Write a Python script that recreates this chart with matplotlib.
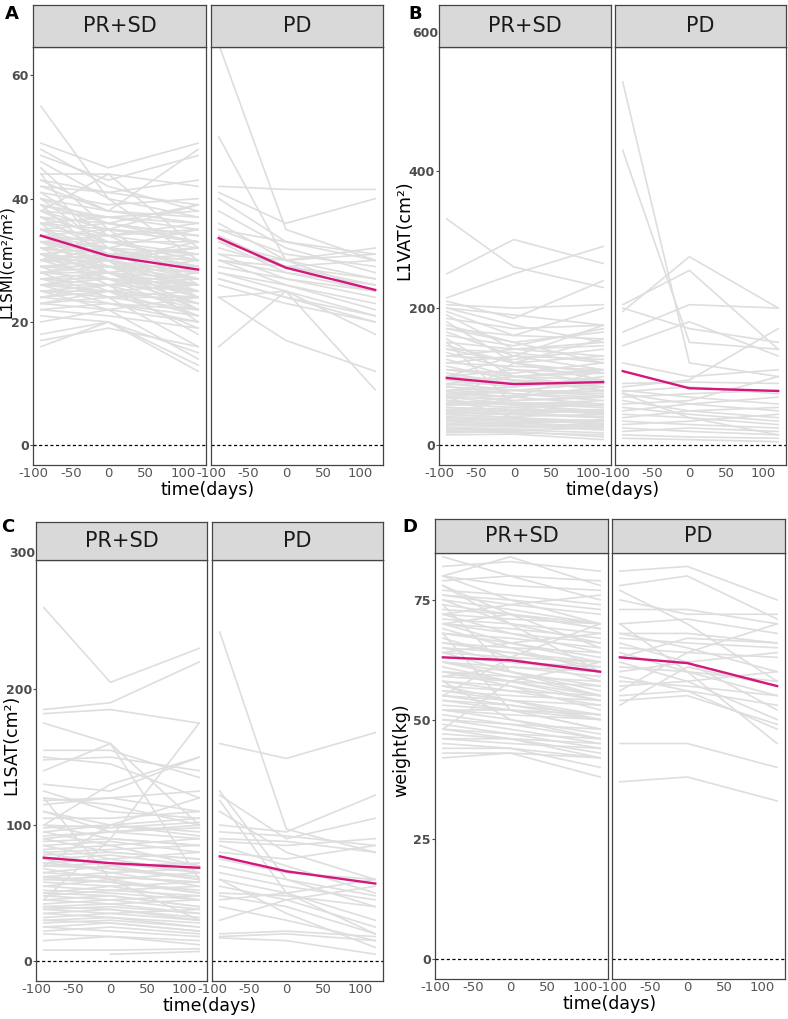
import numpy as np
import matplotlib
matplotlib.use("Agg")
import matplotlib.pyplot as plt

nan = np.nan
times = [-90, 0, 120]
groups = ["PR+SD", "PD"]

# ---- panel A: L1SMI ----
smi_prsd = [
    [55, 40, 30], [49, 45, 49], [48, 42, 38], [47, 43, 47], [45, 35, 26], [44, 44, 42], [44, 30, 22],
    [43, 38, 36], [42, 41, 43], [41, 34, 28], [41, 39, 40], [40, 36, 33], [40, 32, 24], [39, 37, 38],
    [39, 30, 20], [38, 37, 35], [38, 33, 30], [37, 36, 39], [37, 31, 27], [36, 35, 34], [36, 28, 22],
    [36, 33, 31], [35, 34, 36], [35, 30, 25], [35, 32, 29], [34, 33, 33], [34, 29, 26], [34, 31, 30],
    [33, 32, 31], [33, 28, 24], [33, 34, 35], [32, 30, 28], [32, 27, 21], [32, 31, 32], [31, 29, 27],
    [31, 30, 33], [31, 26, 18], [30, 29, 28], [30, 31, 30], [30, 27, 25], [29, 28, 26], [29, 30, 31],
    [29, 25, 19], [28, 27, 26], [28, 29, 29], [28, 24, 22], [27, 26, 25], [27, 28, 27], [27, 24, 16],
    [26, 25, 24], [26, 27, 26], [26, 23, 20], [25, 24, 24], [25, 26, 27], [25, 22, 14], [24, 23, 22],
    [24, 25, 23], [23, 22, 20], [23, 24, 25], [22, 21, 19], [22, 23, 21], [21, 20, 15], [20, 22, 24],
    [18, 20, 13], [17, 19, 16], [16, 20, 12], [42, 38, 48], [38, 44, 32], [30, 35, 39], [46, 40, 37],
    [36, 37, 36], [35, 36, 34], [34, 35, 33], [33, 31, 29], [32, 33, 30], [31, 32, 29], [30, 30, 27],
    [29, 29, 24], [28, 28, 25], [27, 27, 23], [26, 26, 22], [25, 25, 21], [38, 35, 33], [37, 34, 32],
    [40, 38, 37], [24, 26, 28], [23, 25, 26], [34, 32, 28], [33, 30, 26], [31, 28, 23], [30, 32, 35],
    [28, 30, 32], [43, 41, 39], [39, 36, 34], [26, 28, 30],
]
smi_pd = [
    [65, 35, 30], [50, 30, 25], [42, 41.5, 41.5], [41, 36, 40], [40, 33, 30], [38, 32, 28], [36, 30, 27],
    [35, 31, 29], [34, 29, 26], [33, 30, 31], [33, 28, 25], [32, 29, 27], [31, 30, 32], [31, 27, 24],
    [30, 28, 26], [30, 26, 22], [29, 27, 25], [28, 26, 23], [28, 25, 21], [27, 24, 20], [26, 23, 20],
    [24, 25, 18], [24, 17, 12], [16, 25, 9], [30, 29, 30], [35, 33, 31], [27, 24, 21],
]
smi_mean = [[34.0, 30.7, 28.5], [33.6, 28.8, 25.2]]

# ---- panel B: L1VAT ----
vat_prsd = [
    [330, 260, 230], [250, 300, 265], [215, 250, 290], [210, 185, 240], [205, 200, 205], [200, 175, 150],
    [195, 160, 200], [190, 140, 130], [185, 170, 175], [180, 120, 95], [175, 150, 165], [170, 160, 155],
    [165, 130, 110], [160, 145, 170], [155, 100, 85], [150, 140, 145], [145, 120, 130], [140, 135, 120],
    [135, 110, 90], [130, 125, 140], [125, 100, 105], [120, 115, 110], [115, 95, 80], [110, 105, 120],
    [105, 90, 95], [100, 95, 90], [95, 85, 100], [90, 80, 75], [88, 92, 85], [85, 75, 70], [80, 85, 95],
    [78, 70, 60], [75, 80, 78], [72, 65, 70], [70, 60, 55], [68, 72, 80], [65, 58, 50], [62, 60, 65],
    [60, 55, 45], [58, 62, 60], [55, 50, 52], [52, 48, 40], [50, 55, 58], [48, 45, 42], [45, 40, 35],
    [42, 46, 50], [40, 38, 30], [38, 35, 37], [35, 32, 28], [32, 34, 36], [30, 28, 22], [28, 30, 25],
    [25, 22, 18], [22, 25, 28], [20, 18, 15], [18, 20, 12], [15, 16, 8], [60, 120, 155], [150, 60, 45],
    [100, 130, 175], [70, 40, 30], [45, 70, 110],
    [120, 130, 125], [110, 100, 95], [100, 110, 105], [95, 90, 85], [90, 100, 110], [85, 80, 90],
    [80, 75, 65], [75, 70, 85], [70, 80, 72], [65, 60, 58], [60, 65, 70], [55, 52, 48], [50, 45, 40],
    [45, 50, 48], [40, 42, 45], [35, 38, 32], [30, 32, 35], [25, 28, 30], [20, 22, 25], [140, 120, 105],
    [130, 140, 150], [170, 150, 120], [200, 190, 175], [60, 70, 85],
]
vat_pd = [
    [530, 120, 100], [430, 150, 140], [205, 255, 140], [200, 170, 150], [195, 275, 200], [165, 205, 200],
    [145, 180, 130], [120, 100, 110], [85, 95, 170], [80, 70, 60], [78, 85, 75], [75, 60, 50], [70, 75, 80],
    [65, 50, 40], [60, 65, 100], [55, 45, 35], [50, 60, 70], [45, 40, 30], [40, 50, 55], [35, 30, 25],
    [30, 35, 45], [25, 20, 15], [20, 25, 20], [15, 12, 10], [10, 8, 5], [75, 40, 15], [90, 92, 90],
]
vat_mean = [[98, 89, 92], [108, 83, 79]]

# ---- panel C: L1SAT ----
sat_prsd = [
    [260, 205, 230], [185, 190, 220], [182, 185, 175], [175, 160, 60], [155, 155, 135], [150, 145, 120],
    [148, 150, 140], [140, 160, 100], [130, 125, 150], [125, 110, 105], [120, 115, 100], [115, 120, 125],
    [110, 95, 90], [105, 105, 110], [100, 90, 85], [98, 100, 95], [95, 85, 70], [92, 95, 100], [90, 80, 75],
    [88, 90, 85], [85, 75, 65], [82, 85, 90], [80, 70, 60], [78, 80, 75], [75, 65, 55], [72, 75, 80],
    [70, 68, 60], [68, 60, 50], [65, 70, 72], [62, 58, 50], [60, 62, 58], [58, 55, 45], [55, 60, 65],
    [52, 50, 45], [50, 48, 40], [48, 52, 55], [45, 42, 35], [42, 45, 48], [40, 38, 30], [38, 40, 35],
    [35, 32, 25], [32, 35, 38], [30, 28, 22], [28, 30, 25], [25, 22, 18], [22, 25, 20], [20, 18, 15],
    [15, 18, 12], [8, 8, 9], [nan, 5, 7], [45, 90, 175], [120, 60, 30], [100, 130, 150], [70, 100, 120],
    [95, 100, 105], [90, 95, 98], [85, 88, 80], [80, 82, 85], [75, 78, 70], [70, 72, 65], [65, 62, 58],
    [60, 58, 52], [55, 52, 48], [50, 55, 58], [45, 48, 40], [40, 42, 45], [35, 38, 32], [30, 32, 28],
    [25, 28, 22], [110, 100, 92], [100, 98, 102], [72, 68, 62], [62, 65, 68], [48, 45, 38], [38, 35, 30],
    [118, 120, 110],
]
sat_pd = [
    [242, 97, 80], [160, 149, 168], [125, 60, 40], [122, 90, 105], [118, 50, 20], [110, 80, 60],
    [95, 92, 85], [90, 88, 80], [88, 85, 90], [85, 70, 50], [80, 75, 85], [75, 65, 60], [70, 60, 48],
    [65, 55, 45], [60, 50, 30], [55, 45, 25], [50, 48, 40], [48, 40, 20], [45, 50, 60], [40, 30, 15],
    [30, 45, 55], [20, 22, 18], [18, 20, 15], [17, 15, 5], [60, 35, 10], [100, 95, 122],
]
sat_mean = [[76, 72, 68.6], [77, 66, 57]]

# ---- panel D: weight ----
wt_prsd = [
    [84, 80, 75], [82, 83, 81], [80, 78, 77], [80, 75, 70], [79, 80, 79], [78, 72, 65], [77, 76, 74],
    [76, 74, 72], [75, 70, 66], [75, 73, 70], [74, 60, 55], [73, 72, 69], [72, 68, 64], [71, 70, 68],
    [70, 66, 62], [70, 69, 67], [69, 65, 60], [68, 67, 65], [67, 63, 58], [66, 65, 64], [65, 62, 60],
    [65, 64, 62], [64, 60, 56], [63, 62, 61], [62, 59, 55], [62, 61, 60], [61, 58, 54], [60, 59, 58],
    [60, 57, 52], [59, 58, 57], [58, 56, 53], [57, 56, 55], [57, 54, 50], [56, 55, 54], [55, 53, 50],
    [55, 54, 53], [54, 52, 48], [53, 52, 51], [52, 50, 47], [52, 51, 50], [51, 49, 46], [50, 49, 48],
    [49, 47, 44], [48, 47, 46], [47, 46, 43], [46, 45, 44], [45, 44, 42], [44, 44, 40], [43, 43, 42],
    [42, 43, 38], [68, 52, 48], [48, 58, 62], [78, 70, 60], [55, 63, 70], [72, 74, 76], [58, 50, 46],
    [76, 75, 73], [74, 72, 70], [72, 71, 70], [70, 68, 66], [68, 66, 63], [66, 64, 61], [64, 63, 62],
    [62, 60, 57], [60, 58, 55], [58, 57, 54], [56, 54, 51], [54, 53, 51], [52, 52, 50], [50, 48, 45],
    [48, 46, 42], [46, 46, 45], [64, 66, 68], [70, 72, 69], [80, 84, 78], [59, 61, 59],
]
wt_pd = [
    [81, 82, 75], [78, 80, 71], [77, 70, 58], [75, 72, 72], [73, 73, 70], [70, 71, 68], [68, 68, 66],
    [68, 65, 60], [67, 66, 65], [66, 62, 52], [65, 64, 63], [64, 60, 55], [63, 67, 66], [62, 58, 50],
    [61, 60, 58], [60, 62, 64], [59, 56, 48], [58, 57, 55], [57, 58, 60], [55, 56, 53], [54, 55, 49],
    [53, 61, 57], [45, 45, 40], [37, 38, 33], [70, 60, 45], [56, 64, 70],
]
wt_mean = [[63, 62.4, 60], [63, 61.8, 57]]

W, H = 788, 1019
fig = plt.figure(figsize=(W / 100, H / 100), dpi=100)
GREY = "#dedede"
MAGENTA = "#d4177c"
FRAME = "#444444"


def px_axes(x0, y0, x1, y1):
    return fig.add_axes([x0 / W, 1 - y1 / H, (x1 - x0) / W, (y1 - y0) / H])


def draw_panel(letter, ylabel, facets, strip_top, plot_top, plot_bottom, ylim, yticks, extra_tick,
               series, means, ylab_xy, letter_xy, ylab_size=12.5):
    xt = np.array(times, dtype=float)
    for i, (x0, x1) in enumerate(facets):
        ax = px_axes(x0, plot_top, x1, plot_bottom)
        for row in series[i]:
            y = np.array(row, dtype=float)
            ok = ~np.isnan(y)
            ax.plot(xt[ok], y[ok], color=GREY, lw=1.2, zorder=1)
        ax.plot(xt, means[i], color=MAGENTA, lw=1.7, zorder=3)
        ax.axhline(0, color="black", lw=0.9, ls=(0, (2.5, 2)), zorder=2)
        ax.set_xlim(-100.5, 130.5)
        ax.set_ylim(*ylim)
        ax.set_xticks([-100, -50, 0, 50, 100])
        ax.set_xticklabels(["-100", "-50", "0", "50", "100"], fontsize=9.5, color="#555555")
        ax.tick_params(axis="x", length=0, pad=1.5)
        ax.set_yticks(yticks)
        if i == 0:
            ax.set_yticklabels([str(t) for t in yticks], fontsize=9, fontweight="bold", color="#4d4d4d")
            ax.tick_params(axis="y", length=2, pad=1, color="#4d4d4d")
            if extra_tick is not None:
                ax.text(-0.005, extra_tick, str(extra_tick), transform=ax.get_yaxis_transform(),
                        ha="right", va="center", fontsize=9, fontweight="bold", color="#4d4d4d",
                        clip_on=False)
        else:
            ax.set_yticklabels([])
            ax.tick_params(axis="y", length=0)
        for s in ax.spines.values():
            s.set_color(FRAME)
            s.set_linewidth(0.9)
        sax = px_axes(x0, strip_top, x1, plot_top)
        sax.set_facecolor("#d9d9d9")
        sax.set_xticks([])
        sax.set_yticks([])
        for s in sax.spines.values():
            s.set_color(FRAME)
            s.set_linewidth(0.9)
        sax.text(0.5, 0.5, groups[i], ha="center", va="center", fontsize=15, color="#1a1a1a",
                 transform=sax.transAxes)
    xmid = (facets[0][0] + facets[1][1]) / 2
    fig.text(xmid / W, 1 - (plot_bottom + 25) / H, "time(days)", ha="center", va="center", fontsize=12.5)
    fig.text(ylab_xy[0] / W, 1 - ylab_xy[1] / H, ylabel, rotation=90, ha="center", va="center",
             fontsize=ylab_size)
    fig.text(letter_xy[0] / W, 1 - letter_xy[1] / H, letter, ha="center", va="center",
             fontsize=13, fontweight="bold")


draw_panel("A", "L1SMI(cm²/m²)", [(33, 206), (211, 383)], 5, 47, 465, (-3.2, 64.6), [0, 20, 40, 60], None,
           [smi_prsd, smi_pd], smi_mean, (7, 262), (12, 14), ylab_size=11)
draw_panel("B", "L1VAT(cm²)", [(439, 611), (615, 786)], 5, 47, 465, (-29, 581), [0, 200, 400], 600,
           [vat_prsd, vat_pd], vat_mean, (404, 230), (415, 14))
draw_panel("C", "L1SAT(cm²)", [(36, 207), (212, 383)], 522, 560, 981, (-14.7, 295), [0, 100, 200], 300,
           [sat_prsd, sat_pd], sat_mean, (11, 745), (8, 527))
draw_panel("D", "weight(kg)", [(435, 608), (612, 785)], 519, 553, 979, (-4.2, 84.8), [0, 25, 50, 75], None,
           [wt_prsd, wt_pd], wt_mean, (401, 750), (410, 527))

fig.savefig("out.png", dpi=100)
